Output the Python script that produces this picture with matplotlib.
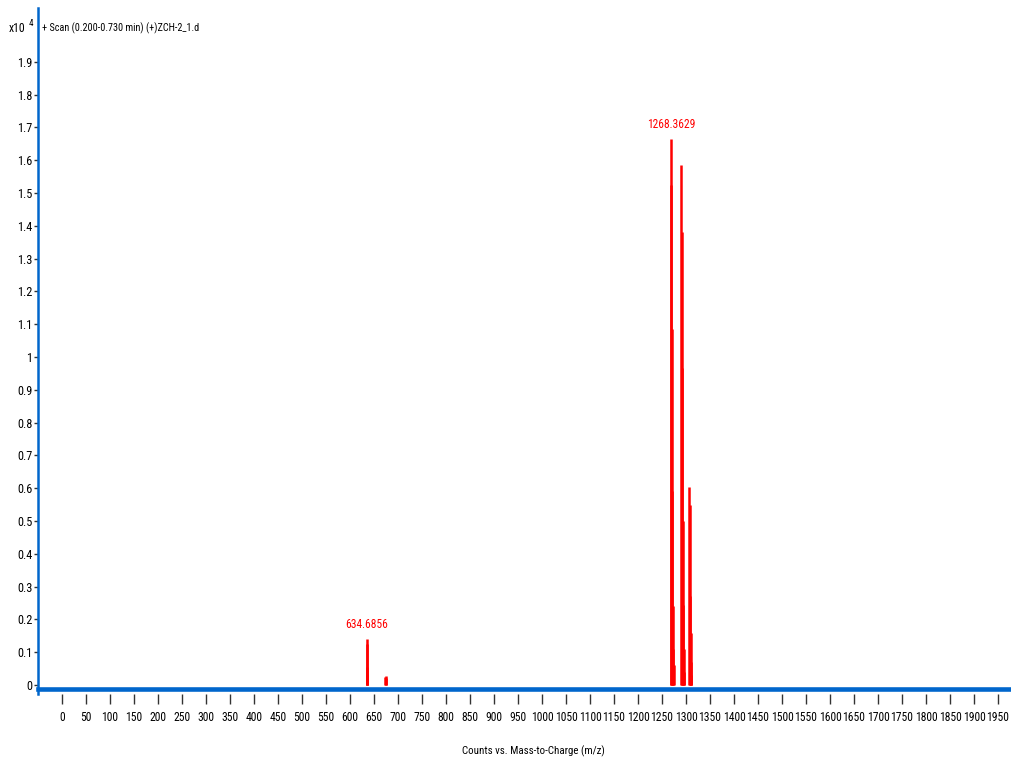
import numpy as np
import matplotlib.pyplot as plt

# peak clusters (m/z, counts x10^4)
mz_low = [634.69, 635.19, 635.69, 636.19, 673.0, 674.0, 675.0]
int_low = [0.140, 0.125, 0.056, 0.030, 0.025, 0.028, 0.020]

mz_mh = [1268.36, 1269.37, 1270.37, 1271.37, 1272.37, 1273.37, 1274.37]
int_mh = [1.665, 1.525, 1.085, 0.59, 0.24, 0.11, 0.06]

mz_na = [1290.35, 1291.35, 1292.35, 1293.35, 1294.35, 1295.35, 1296.35]
int_na = [1.585, 1.38, 0.965, 0.50, 0.245, 0.11, 0.04]

mz_k = [1306.32, 1307.32, 1308.32, 1309.32, 1310.32, 1311.32]
int_k = [0.605, 0.55, 0.27, 0.16, 0.07, 0.03]

labels = [(634.6856, 0.140, '634.6856'), (1268.3629, 1.665, '1268.3629')]

yticks = np.round(np.arange(0, 2.0, 0.1), 1)
ytick_labels = ['0' if v == 0 else ('1' if v == 1 else f'{v:g}') for v in yticks]
xticks = np.arange(0, 2000, 50)

plt.rcParams['font.family'] = ['Roboto Condensed', 'Liberation Sans Narrow', 'Arial Narrow',
                               'Liberation Sans', 'DejaVu Sans']
blue = '#0066CC'
red = '#FF0000'

fig = plt.figure(figsize=(10.11, 7.58), dpi=100)
ax = fig.add_axes([38 / 1011, 1 - 694 / 758, 1 - 38 / 1011, (694 - 8) / 758])

for mz, inten in [(mz_low, int_low), (mz_mh, int_mh), (mz_na, int_na), (mz_k, int_k)]:
    ax.vlines(mz, 0, inten, color=red, linewidth=1.8)

for x, y, s in labels:
    ax.text(x, y + 0.025, s, color=red, ha='center', va='bottom', fontsize=8.3)

ax.set_xlim(-50, 1977)
ax.set_ylim(-0.0275, 2.064)

ax.axhline(-0.0135, color=blue, linewidth=3.3, clip_on=False, zorder=5)
ax.spines['bottom'].set_visible(False)
ax.spines['top'].set_visible(False)
ax.spines['right'].set_visible(False)
ax.spines['left'].set_color(blue)
ax.spines['left'].set_linewidth(1.8)

ax.set_yticks(yticks)
ax.set_yticklabels(ytick_labels, fontsize=8.8)
ax.set_xticks(xticks)
ax.set_xticklabels([str(v) for v in xticks], fontsize=8.4)
ax.tick_params(axis='y', length=3, width=1, color='#333333', pad=1)
ax.tick_params(axis='x', length=7, width=1, color='#333333', pad=5)

ax.set_xlabel('Counts vs. Mass-to-Charge (m/z)', fontsize=7.8)
ax.xaxis.set_label_coords(0.509, -0.075)

fig.text(9 / 1011, 1 - 28 / 758, 'x10', fontsize=8.5, va='center', ha='left')
fig.text(29 / 1011, 1 - 23 / 758, '4', fontsize=6.5, va='center', ha='left')
fig.text(42 / 1011, 1 - 28 / 758, '+ Scan (0.200-0.730 min) (+)ZCH-2_1.d', fontsize=7.3,
         va='center', ha='left')

fig.savefig('out.png', dpi=100)
